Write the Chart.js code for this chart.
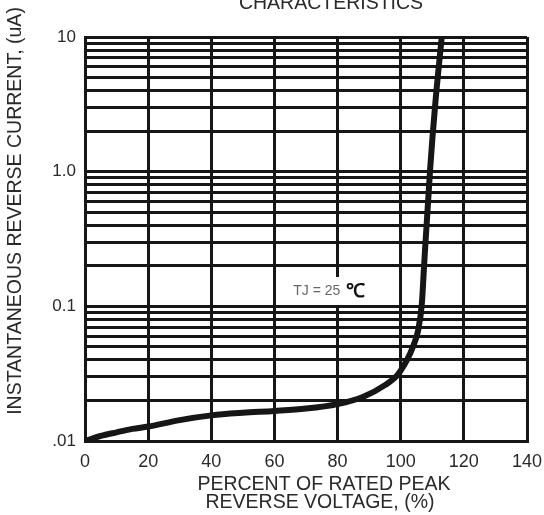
<!DOCTYPE html>
<html lang="en">
<head>
  <meta charset="UTF-8" />
  <title>Typical Reverse Characteristics</title>
  <script src="https://cdn.jsdelivr.net/npm/chart.js"></script>
  <style>
    html, body {
      margin: 0;
      padding: 0;
      background: #fff;
    }
    #wrap {
      width: 544px;
      height: 515px;
    }
  </style>
</head>
<body>
  <div id="wrap"><canvas id="grafica"></canvas></div>

  <script>
    // voltage in % of rated peak, current in uA
    const voltage = [0, 5, 10, 15, 20, 30, 40, 50, 60, 70, 80, 88, 95, 99, 102, 104, 105.5, 106.7, 107.4, 109.3, 111, 113];
    const current = [0.01, 0.0109, 0.0116, 0.0123, 0.0128, 0.0143, 0.0155, 0.0162, 0.0167, 0.0174, 0.0188, 0.0212, 0.026, 0.031, 0.040, 0.051, 0.066, 0.105, 0.2, 1.03, 3.3, 10];

    const xTicks = [0, 20, 40, 60, 80, 100, 120, 140];
    const yLabelValues = [0.01, 0.1, 1, 10];
    const yLabelText = ['.01', '0.1', '1.0', '10'];

    const chartTitle = 'CHARACTERISTICS';
    const xTitle = ['PERCENT OF RATED PEAK', 'REVERSE VOLTAGE, (%)'];
    const yTitle = 'INSTANTANEOUS REVERSE CURRENT, (uA)';
    const noteText = 'TJ = 25';
    const noteUnit = '\u2103';
    const notePos = [78, 0.13];

    // log grid: 1..9 in every decade plus the top
    const yTicks = [];
    [0.01, 0.1, 1].forEach(d => {
      for (let k = 1; k <= 9; k++) yTicks.push(+(k * d).toPrecision(3));
    });
    yTicks.push(10);

    const ink = '#161616';
    const txt = '#2a2a2a';
    const fam = '"Liberation Sans", Arial, sans-serif';

    const textos = {
      id: 'textos',
      afterDraw(chart) {
        const ctx = chart.ctx;
        const xs = chart.scales.x, ys = chart.scales.y;
        ctx.save();
        ctx.fillStyle = txt;
        ctx.textAlign = 'center';
        ctx.textBaseline = 'alphabetic';
        ctx.font = '19.5px ' + fam;
        ctx.fillText(chartTitle, 331, 9);

        ctx.textBaseline = 'middle';
        ctx.fillText(xTitle[0], 324, 485);
        ctx.fillText(xTitle[1], 320, 503);

        ctx.save();
        ctx.translate(16, 211);
        ctx.rotate(-Math.PI / 2);
        ctx.fillText(yTitle, 0, 0);
        ctx.restore();

        // Tj note with white box over the grid
        const px = xs.getPixelForValue(notePos[0]);
        const py = ys.getPixelForValue(notePos[1]);
        ctx.fillStyle = '#fff';
        ctx.fillRect(px - 41, py - 14, 88, 28);
        ctx.textAlign = 'left';
        ctx.fillStyle = '#666';
        ctx.font = '14px ' + fam;
        ctx.fillText(noteText, px - 38, py);
        ctx.fillStyle = '#111';
        ctx.font = 'bold 19px ' + fam;
        ctx.fillText(noteUnit, px + 15, py + 1);
        ctx.restore();
      }
    };

    const ctx = document.getElementById('grafica').getContext('2d');
    new Chart(ctx, {
      type: 'line',
      data: {
        datasets: [{
          data: voltage.map((v, i) => ({ x: v, y: current[i] })),
          borderColor: ink,
          borderWidth: 6,
          pointRadius: 0,
          fill: false,
          cubicInterpolationMode: 'monotone'
        }]
      },
      options: {
        responsive: true,
        maintainAspectRatio: false,
        animation: false,
        layout: { padding: { top: 37, right: 0, left: 0, bottom: 0 } },
        plugins: {
          legend: { display: false },
          tooltip: { enabled: false }
        },
        scales: {
          x: {
            type: 'linear',
            min: 0,
            max: 140,
            afterBuildTicks: s => { s.ticks = xTicks.map(v => ({ value: v })); },
            afterFit: s => { s.height = 74; s.paddingRight = 17; s.paddingLeft = 0; },
            grid: { color: ink, lineWidth: 3, drawTicks: false },
            border: { color: ink, width: 3 },
            ticks: {
              color: txt,
              padding: 10,
              maxRotation: 0,
              autoSkip: false,
              font: { family: fam, size: 18 }
            }
          },
          y: {
            type: 'logarithmic',
            min: 0.01,
            max: 10,
            afterBuildTicks: s => { s.ticks = yTicks.map(v => ({ value: v })); },
            afterFit: s => { s.width = 85; },
            grid: { color: ink, lineWidth: 3, drawTicks: false },
            border: { color: ink, width: 3 },
            ticks: {
              color: txt,
              padding: 9,
              autoSkip: false,
              font: { family: fam, size: 17 },
              callback: v => {
                const i = yLabelValues.findIndex(t => Math.abs(t - v) < t * 1e-6);
                return i >= 0 ? yLabelText[i] : '';
              }
            }
          }
        }
      },
      plugins: [textos]
    });
  </script>
</body>
</html>
